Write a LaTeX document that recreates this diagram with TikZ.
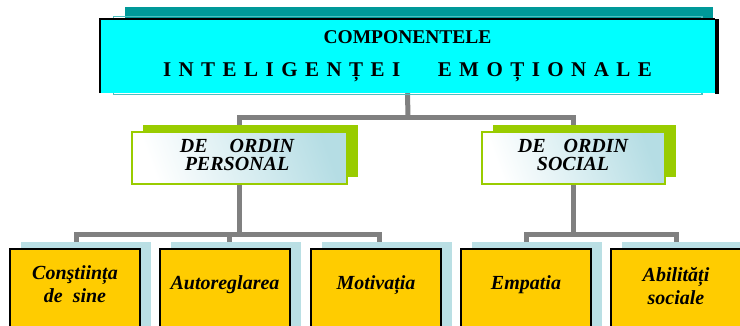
\documentclass[tikz,border=0pt]{standalone}
\usepackage{fontspec}
\setmainfont{Liberation Serif}
\usetikzlibrary{shadows}
\definecolor{ccyan}{HTML}{00FFFF}
\definecolor{cteal}{HTML}{009999}
\definecolor{clteal}{HTML}{4DC0C0}
\definecolor{cgreen}{HTML}{99CC00}
\definecolor{cyellow}{HTML}{FFCC00}
\definecolor{clb}{HTML}{B5DDE4}
\definecolor{cshadow}{HTML}{BADFE4}
\definecolor{cgray}{HTML}{808080}
\pgfdeclarelayer{bg}
\pgfsetlayers{bg,main}
\tikzset{
  conn/.style={draw=cgray, line width=5pt},
  topbox/.style={fill=ccyan, minimum width=615pt, minimum height=74pt, inner sep=0pt,
    align=center, font=\fontsize{19.5}{35}\selectfont\bfseries},
  midbox/.style={draw=cgreen, line width=2pt, shade, top color=clb, bottom color=white,
    shading angle=-70, minimum height=52pt, inner sep=0pt,
    general shadow={fill=cgreen, shadow xshift=10.5pt, shadow yshift=7pt}},
  midtext/.style={align=center, font=\fontsize{20}{18}\selectfont\bfseries\itshape, inner sep=0pt},
  leafbox/.style={draw=black, line width=1.5pt, fill=cyellow, minimum width=130pt,
    minimum height=95pt, anchor=north, inner sep=0pt,
    general shadow={fill=cshadow, shadow xshift=11pt, shadow yshift=7pt}},
  leaftext/.style={align=center, font=\fontsize{20}{23}\selectfont\bfseries\itshape, inner sep=0pt}
}
\begin{document}
\begin{tikzpicture}[x=1pt,y=-1pt]
\useasboundingbox (0,0) rectangle (740,325);
\clip (0,0) rectangle (740,325);
% top box decorations behind
\fill[cteal] (125,7) rectangle (713,19);
\draw[clteal, line width=1.2pt] (113.5,16.5) rectangle (702,94.8);
\node[topbox] (top) at (407.5,56) {COMPONENTELE\\[-2pt]
  \fontsize{21}{35}\selectfont\makebox[489pt]{I\hfill N\hfill T\hfill E\hfill L\hfill I\hfill G\hfill E\hfill N\hfill Ț\hfill E\hfill I\hspace{30pt}\hfill E\hfill M\hfill O\hfill Ț\hfill I\hfill O\hfill N\hfill A\hfill L\hfill E}};
\draw[black, line width=1.5pt] (top.south west) -- (top.north west) -- (top.north east);
\fill[black] ([yshift=-0.5pt]top.north east) rectangle ([xshift=4pt,yshift=-1pt]top.south east);
% middle boxes
\node[midbox, minimum width=215pt] (pers) at (239.5,158) {};
\node[midtext] (perst) at (237,155) {DE\hspace{22pt}ORDIN\\PERSONAL};
\node[midbox, minimum width=183pt] (soc) at (573.5,158) {};
\node[midtext] (soct) at (573,155) {DE\hspace{18pt}ORDIN\\SOCIAL};
% leaf boxes
\node[leafbox] (b1) at (75,248) {};
\node[leafbox] (b2) at (225,248) {};
\node[leafbox] (b3) at (376,248) {};
\node[leafbox] (b4) at (526,248) {};
\node[leafbox] (b5) at (676,248) {};
\node[leaftext] (t1) at (75,284) {Conştiința\\de\ \ sine};
\node[leaftext] (t2) at (225,285) {Autoreglarea};
\node[leaftext] (t3) at (376,285) {Motivația};
\node[leaftext] (t4) at (526,285) {Empatia};
\node[leaftext] (t5) at (676,286) {Abilități\\sociale};
% connectors
\coordinate (tj) at (408,117);
\coordinate (barL) at (241,234);
\coordinate (barR) at (573,234);
\begin{pgfonlayer}{bg}
\draw[conn] (top.south) -- (tj);
\draw[conn] (pers.center) |- (tj) -| (soc.center);
\draw[conn] (pers.center) -- (pers.center |- barL);
\draw[conn] ([xshift=1pt]b1.north) |- (pers.center |- barL) -| ([xshift=3.5pt]b3.north);
\draw[conn] ([xshift=4pt]b2.north) -- ([xshift=4pt]b2.north |- barL);
\draw[conn] (soc.center) -- (soc.center |- barR);
\draw[conn] (b4.north) |- (soc.center |- barR) -| (b5.north);
\end{pgfonlayer}
\end{tikzpicture}
\end{document}
